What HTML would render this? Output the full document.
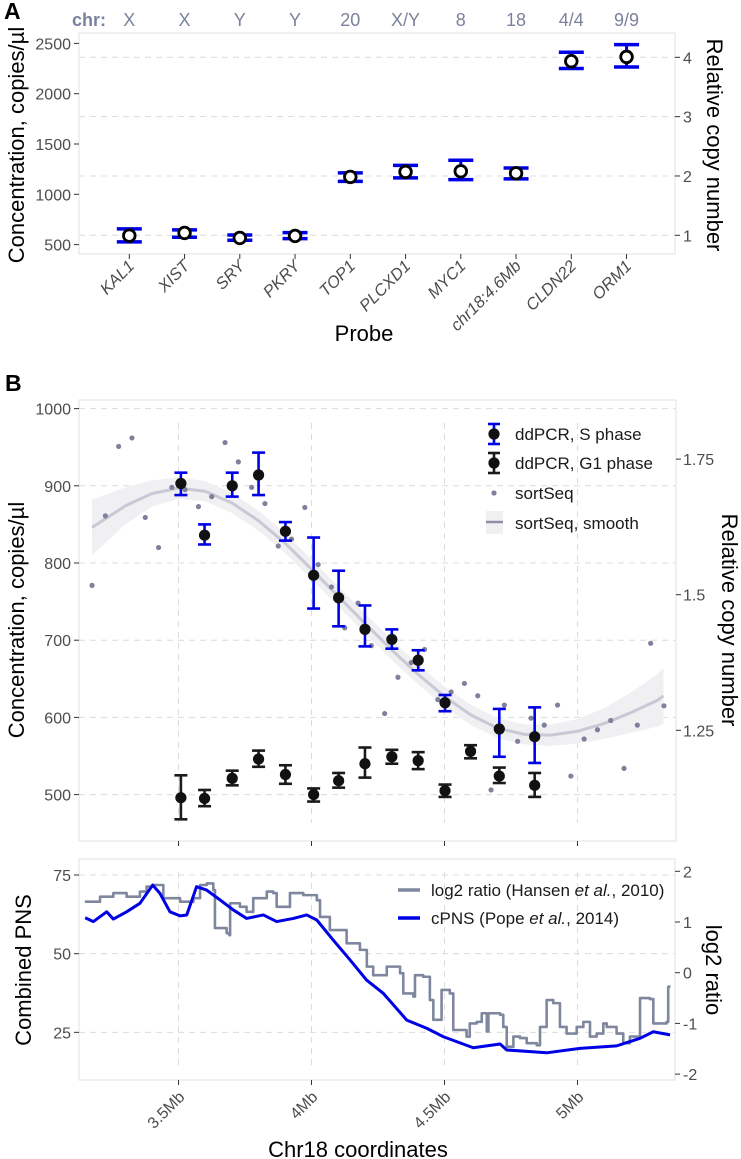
<!DOCTYPE html>
<html><head><meta charset="utf-8"><style>
html,body{margin:0;padding:0;background:#fff;}
svg{display:block;font-family:"Liberation Sans",Arial,sans-serif;}
.tick{font-size:16px;fill:#4d4d4d;}
.ttl{font-size:22px;fill:#000;}
</style></head><body>
<svg id="fig" width="741" height="1159" viewBox="0 0 741 1159"></svg>
<script>
// ---------- Panel A data ----------
const probes = ["KAL1","XIST","SRY","PKRY","TOP1","PLCXD1","MYC1","chr18:4.6Mb","CLDN22","ORM1"];
const chrLabels = ["X","X","Y","Y","20","X/Y","8","18","4/4","9/9"];
const concA = [589,616,566,586,1173,1223,1229,1209,2323,2366];
const concALo = [527,573,543,560,1129,1163,1146,1153,2250,2266];
const concAHi = [656,646,596,619,1213,1288,1338,1262,2412,2488];
const ticksALeft = [500,1000,1500,2000,2500];
const ticksARight = [1,2,3,4];
// ---------- Panel B data ----------
const sPos = [3.509,3.598,3.702,3.801,3.902,4.008,4.102,4.201,4.302,4.401,4.502,4.706,4.839];
const sVal = [903,836,900,914,841,784,755,714,701,674,619,585,575];
const sLo = [888,824,886,888,829,741,718,692,689,661,608,549,541];
const sHi = [917,850,917,943,853,833,790,745,714,687,629,611,613];
const gPos = [3.509,3.598,3.702,3.801,3.902,4.008,4.102,4.201,4.302,4.401,4.502,4.598,4.706,4.839];
const gVal = [496,495,521,546,526,500,518,540,549,544,505,556,524,512];
const gLo = [468,485,512,536,514,491,509,522,540,533,497,547,515,497];
const gHi = [525,506,531,557,538,508,528,561,558,555,513,564,535,528];
const seqPos = [3.175,3.225,3.275,3.325,3.375,3.425,3.475,3.525,3.575,3.625,3.675,3.725,3.775,3.825,3.875,3.925,3.975,4.025,4.075,4.125,4.175,4.225,4.275,4.325,4.375,4.425,4.475,4.525,4.575,4.625,4.675,4.725,4.775,4.825,4.875,4.925,4.975,5.025,5.075,5.125,5.175,5.225,5.275,5.325];
const seqVal = [771,861,951,962,859,820,898,895,873,886,956,931,898,877,822,831,872,798,769,716,748,693,605,652,671,688,623,633,644,628,506,616,569,599,590,616,524,572,584,596,534,590,696,615];
const smPos = [3.175,3.3,3.4,3.5,3.6,3.7,3.8,3.9,4.0,4.1,4.2,4.3,4.4,4.5,4.6,4.7,4.8,4.9,5.0,5.1,5.2,5.3,5.323];
const smVal = [846,874,890,897,893,878,855,826,792,757,722,688,656,627,603,586,578,577,582,592,606,622,628];
const smSe = [36,24,17,14,13,13,13,13,13,13,13,13,13,13,13,13,13,14,16,20,26,34,36];
const ticksBLeft = [500,600,700,800,900,1000];
const ticksBRight = [1.25,1.5,1.75];
const ticksX = [3.5,4,4.5,5];
const ticksXLabels = ["3.5Mb","4Mb","4.5Mb","5Mb"];
// ---------- Panel C data ----------
const cpnsPos = [3.149,3.180,3.230,3.255,3.305,3.355,3.403,3.430,3.468,3.506,3.531,3.568,3.606,3.656,3.706,3.756,3.819,3.869,3.932,3.982,4.020,4.082,4.145,4.207,4.270,4.358,4.433,4.496,4.608,4.709,4.734,4.884,5.009,5.147,5.235,5.285,5.348];
const cpnsVal = [61.4,60.2,63.3,61.0,63.3,66.0,71.8,69.2,63.3,62.0,62.3,71.3,70.2,67.1,63.9,61.2,62.3,60.2,61.2,62.3,60.7,54.3,48.0,41.6,37.4,28.9,26.3,23.6,20.1,21.3,19.4,18.5,19.9,20.7,23.1,25.2,24.2];
const l2Pos = [3.148,3.205,3.255,3.305,3.355,3.380,3.405,3.443,3.506,3.556,3.581,3.606,3.631,3.637,3.681,3.691,3.694,3.731,3.756,3.781,3.832,3.856,3.869,3.907,3.919,3.969,4.020,4.032,4.069,4.132,4.182,4.208,4.232,4.283,4.333,4.345,4.383,4.389,4.420,4.445,4.458,4.483,4.489,4.520,4.533,4.583,4.595,4.621,4.640,4.659,4.665,4.709,4.721,4.734,4.759,4.784,4.809,4.847,4.859,4.884,4.909,4.934,4.959,4.997,5.022,5.047,5.072,5.097,5.110,5.147,5.172,5.197,5.235,5.272,5.285,5.335,5.341,5.345];
const l2Val = [1.40,1.50,1.57,1.50,1.60,1.70,1.73,1.47,1.40,1.47,1.73,1.76,1.63,0.88,0.78,0.74,1.37,1.30,1.20,1.47,1.60,1.57,1.30,1.30,1.57,1.53,1.43,1.10,0.84,0.58,0.45,0.12,-0.05,0.12,-0.01,-0.41,-0.47,-0.05,-0.08,-0.54,-0.93,-0.93,-0.34,-0.41,-1.13,-1.26,-1.00,-0.97,-0.80,-1.16,-0.80,-0.83,-1.07,-1.46,-1.26,-1.29,-1.39,-1.43,-1.07,-0.54,-0.60,-1.07,-1.20,-1.07,-0.97,-1.26,-1.20,-1.00,-1.07,-1.20,-1.39,-1.26,-0.50,-0.52,-1.00,-0.97,-0.28,-0.25];
const ticksCLeft = [25,50,75];
const ticksCRight = [-2,-1,0,1,2];

const NS="http://www.w3.org/2000/svg";
const svg=document.getElementById('fig');
function el(tag,attrs,parent){const e=document.createElementNS(NS,tag);for(const k in attrs)e.setAttribute(k,attrs[k]);(parent||svg).appendChild(e);return e;}
function txt(s,attrs,parent){const e=el('text',attrs,parent);e.textContent=s;return e;}

const xA=i=>129.3+i*55.25, yA=v=>244.6-(v-500)*0.1006, yAR=n=>235.3-(n-1)*59.33;
const xB=m=>178.5+(m-3.5)*266, yB=v=>408.6+(1000-v)*0.772, yBR=r=>594.7-(r-1.5)*542.4;
const yC=p=>875-(p-75)*3.147, yCR=r=>972.7-r*50.7;
const GRID="#dcdcdc", BLUE="#0000e6", DARK="#1a1a1a";

// ================= PANEL A =================
const gA=el('g',{});


txt("A",{x:4,y:19,'font-size':23,'font-weight':'bold'},gA);
el('rect',{x:79,y:33,width:596,height:221,fill:'none',stroke:'#e2e2e2','stroke-width':1},gA);
ticksARight.forEach(n=>{
  const l=el('line',{x1:79,x2:675,y1:yAR(n),y2:yAR(n),stroke:GRID,'stroke-dasharray':'6,5'},gA);
  
  el('line',{x1:675,x2:680,y1:yAR(n),y2:yAR(n),stroke:'#333'},gA);
  const t=txt(String(n),{x:683,y:yAR(n)+6,class:'tick'},gA);
  
  
});
ticksALeft.forEach(v=>{
  el('line',{x1:74,x2:79,y1:yA(v),y2:yA(v),stroke:'#333'},gA);
  const t=txt(String(v),{x:71,y:yA(v)+6,class:'tick','text-anchor':'end'},gA);
  
  
});
const chrT=txt("chr:",{x:72,y:26,'font-size':18,'font-weight':'bold',fill:'#7b829c'},gA);

probes.forEach((p,i)=>{
  const x=xA(i);
  const c=txt(chrLabels[i],{x:x,y:26,'font-size':18,fill:'#7b829c','text-anchor':'middle'},gA);
  
  
  el('line',{x1:x,x2:x,y1:254,y2:259,stroke:'#333'},gA);
  const t=txt(p,{x:0,y:0,'font-size':16.5,'font-style':'italic',fill:'#4d4d4d','text-anchor':'end',transform:`translate(${x+6},${267}) rotate(-45)`},gA);
  
  
  const g=el('g',{},gA);
  
  
  el('line',{x1:x,x2:x,y1:yA(concALo[i]),y2:yA(concAHi[i]),stroke:BLUE,'stroke-width':3},g);
  el('line',{x1:x-12.5,x2:x+12.5,y1:yA(concALo[i]),y2:yA(concALo[i]),stroke:BLUE,'stroke-width':3.5},g);
  el('line',{x1:x-12.5,x2:x+12.5,y1:yA(concAHi[i]),y2:yA(concAHi[i]),stroke:BLUE,'stroke-width':3.5},g);
  el('circle',{cx:x,cy:yA(concA[i]),r:5.8,fill:'#fff',stroke:'#000','stroke-width':2.8},g);
});
txt("Probe",{x:364,y:341,class:'ttl','text-anchor':'middle'},gA);
txt("Concentration, copies/µl",{x:0,y:0,class:'ttl','text-anchor':'middle',transform:'translate(24,145) rotate(-90)'},gA);
txt("Relative copy number",{x:0,y:0,class:'ttl','text-anchor':'middle',transform:'translate(707,145) rotate(90)'},gA);

// ================= PANEL B =================
const gB=el('g',{});


txt("B",{x:5,y:391,'font-size':23,'font-weight':'bold'},gB);
el('rect',{x:79,y:400,width:597,height:441,fill:'none',stroke:'#e2e2e2'},gB);
ticksBLeft.forEach(v=>{
  el('line',{x1:79,x2:676,y1:yB(v),y2:yB(v),stroke:GRID,'stroke-dasharray':'6,5'},gB);
  el('line',{x1:74,x2:79,y1:yB(v),y2:yB(v),stroke:'#333'},gB);
  const t=txt(String(v),{x:71,y:yB(v)+6,class:'tick','text-anchor':'end'},gB);
  
  
});
ticksBRight.forEach(r=>{
  el('line',{x1:676,x2:681,y1:yBR(r),y2:yBR(r),stroke:'#333'},gB);
  const t=txt(String(r),{x:683,y:yBR(r)+6,class:'tick'},gB);
  
  
});
ticksX.forEach(m=>{
  el('line',{x1:xB(m),x2:xB(m),y1:423,y2:823,stroke:GRID,'stroke-dasharray':'6,5'},gB);
  el('line',{x1:xB(m),x2:xB(m),y1:841,y2:846,stroke:'#333'},gB);
});
let up='',dn='';
smPos.forEach((m,i)=>{up+=(i?'L':'M')+xB(m)+','+yB(smVal[i]+smSe[i]);});
for(let i=smPos.length-1;i>=0;i--){dn+='L'+xB(smPos[i])+','+yB(smVal[i]-smSe[i]);}
const band=el('path',{d:up+dn+'Z',fill:'#f0f0f3'},gB);


let sd='';
smPos.forEach((m,i)=>{sd+=(i?'L':'M')+xB(m)+','+yB(smVal[i]);});
const sm=el('path',{d:sd,fill:'none',stroke:'#c9c9d6','stroke-width':3},gB);


seqPos.forEach((m,i)=>{
  const c=el('circle',{cx:xB(m),cy:yB(seqVal[i]),r:2.6,fill:'#7e819c'},gB);
  
  
});
function errPt(x,v,lo,hi,col,name){
  const g=el('g',{},gB);
  
  
  el('line',{x1:x,x2:x,y1:yB(lo),y2:yB(hi),stroke:col,'stroke-width':2.6},g);
  el('line',{x1:x-6.5,x2:x+6.5,y1:yB(lo),y2:yB(lo),stroke:col,'stroke-width':2.6},g);
  el('line',{x1:x-6.5,x2:x+6.5,y1:yB(hi),y2:yB(hi),stroke:col,'stroke-width':2.6},g);
  el('circle',{cx:x,cy:yB(v),r:5.6,fill:'#111'},g);
}
gPos.forEach((m,i)=>errPt(xB(m),gVal[i],gLo[i],gHi[i],DARK,'g1-phase-point'));
sPos.forEach((m,i)=>errPt(xB(m),sVal[i],sLo[i],sHi[i],BLUE,'s-phase-point'));
const lgB=el('g',{},gB);


[[434,BLUE,'ddPCR, S phase'],[463,DARK,'ddPCR, G1 phase']].forEach(([y,col,lab])=>{
  el('line',{x1:494,x2:494,y1:y-10,y2:y+10,stroke:col,'stroke-width':2.6},lgB);
  el('line',{x1:488,x2:500,y1:y-10,y2:y-10,stroke:col,'stroke-width':2.6},lgB);
  el('line',{x1:488,x2:500,y1:y+10,y2:y+10,stroke:col,'stroke-width':2.6},lgB);
  el('circle',{cx:494,cy:y,r:5.6,fill:'#111'},lgB);
  txt(lab,{x:515,y:y+6,'font-size':17,fill:'#1a1a1a'},lgB);
});
el('circle',{cx:494,cy:493,r:2.6,fill:'#7e819c'},lgB);
txt('sortSeq',{x:515,y:499,'font-size':17,fill:'#1a1a1a'},lgB);
el('rect',{x:486,y:511,width:17,height:23,fill:'#f0f0f3'},lgB);
el('line',{x1:486,x2:503,y1:522,y2:522,stroke:'#8d8fa6','stroke-width':2.5},lgB);
txt('sortSeq, smooth',{x:515,y:529,'font-size':17,fill:'#1a1a1a'},lgB);
txt("Concentration, copies/µl",{x:0,y:0,class:'ttl','text-anchor':'middle',transform:'translate(24,620) rotate(-90)'},gB);
txt("Relative copy number",{x:0,y:0,class:'ttl','text-anchor':'middle',transform:'translate(722,620) rotate(90)'},gB);

// ================= PANEL C =================
const gC=el('g',{});


el('rect',{x:79,y:859,width:596,height:221,fill:'none',stroke:'#e2e2e2'},gC);
ticksCLeft.forEach(p=>{
  el('line',{x1:79,x2:675,y1:yC(p),y2:yC(p),stroke:GRID,'stroke-dasharray':'6,5'},gC);
  el('line',{x1:74,x2:79,y1:yC(p),y2:yC(p),stroke:'#333'},gC);
  const t=txt(String(p),{x:71,y:yC(p)+6,class:'tick','text-anchor':'end'},gC);
  
  
});
ticksCRight.forEach(r=>{
  el('line',{x1:675,x2:680,y1:yCR(r),y2:yCR(r),stroke:'#333'},gC);
  const t=txt(String(r),{x:683,y:yCR(r)+6,class:'tick'},gC);
  
  
});
ticksX.forEach((m,i)=>{
  el('line',{x1:xB(m),x2:xB(m),y1:872,y2:1070,stroke:GRID,'stroke-dasharray':'6,5'},gC);
  el('line',{x1:xB(m),x2:xB(m),y1:1080,y2:1085,stroke:'#333'},gC);
  const t=txt(ticksXLabels[i],{x:0,y:0,class:'tick','text-anchor':'end',transform:`translate(${xB(m)+7},${1098}) rotate(-45)`},gC);
  
  
});
let gd='';
l2Pos.forEach((m,i)=>{
  if(i===0) gd+='M'+xB(m)+','+yCR(l2Val[i]);
  else gd+='L'+xB(m)+','+yCR(l2Val[i-1])+'L'+xB(m)+','+yCR(l2Val[i]);
});
const gl=el('path',{d:gd,fill:'none',stroke:'#7f879e','stroke-width':2.6,'stroke-linejoin':'round'},gC);


let bd='';
cpnsPos.forEach((m,i)=>{bd+=(i?'L':'M')+xB(m)+','+yC(cpnsVal[i]);});
const bl=el('path',{d:bd,fill:'none',stroke:'#0000e6','stroke-width':3,'stroke-linejoin':'round'},gC);


const lgC=el('g',{},gC);


el('line',{x1:398,x2:420,y1:890,y2:890,stroke:'#7f879e','stroke-width':3.5},lgC);
const t1=txt('',{x:431,y:896,'font-size':17,fill:'#1a1a1a'},lgC);
t1.innerHTML='log2 ratio (Hansen <tspan font-style="italic">et al.</tspan>, 2010)';

el('line',{x1:398,x2:420,y1:918,y2:918,stroke:'#0000e6','stroke-width':3.5},lgC);
const t2=txt('',{x:431,y:924,'font-size':17,fill:'#1a1a1a'},lgC);
t2.innerHTML='cPNS (Pope <tspan font-style="italic">et al.</tspan>, 2014)';

txt("Combined PNS",{x:0,y:0,class:'ttl','text-anchor':'middle',transform:'translate(31,970) rotate(-90)'},gC);
txt("log2 ratio",{x:0,y:0,class:'ttl','text-anchor':'middle',transform:'translate(706,970) rotate(90)'},gC);
txt("Chr18 coordinates",{x:358,y:1157,class:'ttl','text-anchor':'middle'},gC);
</script>
</body></html>
